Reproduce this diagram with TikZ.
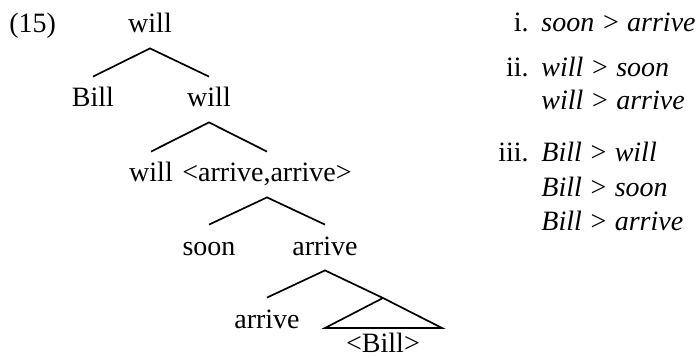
\documentclass[tikz,border=0pt]{standalone}
\usepackage{fontspec}
\setmainfont{Liberation Serif}
\usetikzlibrary{positioning}

\tikzset{
  word/.style={font=\fontsize{14}{17}\selectfont, anchor=base, inner xsep=1pt, inner ysep=3pt, text height=12pt, text depth=4.5pt},
  branch/.style={line width=0.85pt, line join=miter},
  itemnum/.style={font=\fontsize{14}{17}\selectfont, anchor=base east, inner sep=0pt},
  itemtxt/.style={font=\fontsize{14}{17}\selectfont\itshape, anchor=base west, inner sep=0pt}
}

\begin{document}
\begin{tikzpicture}[x=0.5pt, y=-0.5pt]
  \useasboundingbox (0,0) rectangle (696,358);

  % Example number
  \node[font=\fontsize{14}{17}\selectfont, anchor=base west, inner sep=0pt] (exnum) at (9,33) {(15)};

  % Tree nodes
  \node[word] (root) at (150,33) {will};
  \node[word] (bill) at (93,107) {Bill};
  \node[word] (willbar) at (209,107) {will};
  \node[word] (willhead) at (151,182) {will};
  \node[word] (arrpair) at (267,182) {<arrive,arrive>};
  \node[word] (soon) at (209,255) {soon};
  \node[word] (arrbar) at (325,255) {arrive};
  \node[word] (arrhead) at (267,328) {arrive};
  \node[word] (billcopy) at (383,352) {<Bill>};
  \coordinate (roof) at (383,298);

  % Branches
  \draw[branch] (bill.north) -- (root.south) -- (willbar.north);
  \draw[branch] (willhead.north) -- (willbar.south) -- (arrpair.north);
  \draw[branch] (soon.north) -- (arrpair.south) -- (arrbar.north);
  \draw[branch] (arrhead.north) -- (arrbar.south) -- (roof);

  % Triangle over the lower copy of Bill
  \draw[branch] (roof) -- ++(59,30) -- ++(-117,0) -- cycle;

  % Ordering statements
  \foreach \y/\num [count=\k] in {32/i., 77/ii., 162/iii.} {
    \node[itemnum] (num\k) at (529,\y) {\num};
  }
  \foreach \y/\txt [count=\k] in {32/{soon > arrive}, 77/{will > soon}, 110/{will > arrive},
                                  162/{Bill > will}, 196/{Bill > soon}, 230/{Bill > arrive}} {
    \node[itemtxt] (order\k) at (541,\y) {\txt};
  }
\end{tikzpicture}
\end{document}
